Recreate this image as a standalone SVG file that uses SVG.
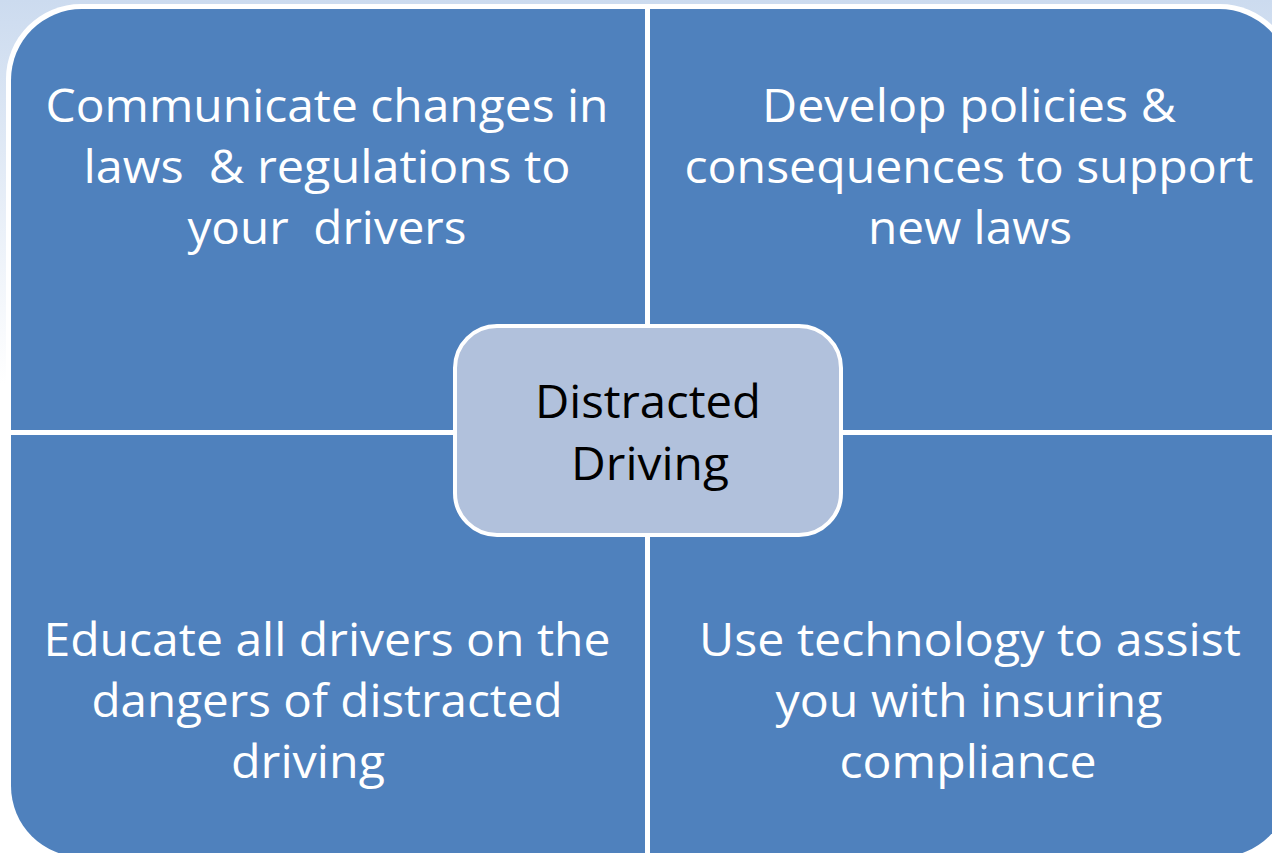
<svg xmlns="http://www.w3.org/2000/svg" width="1272" height="853" viewBox="0 0 1272 853">
<defs>
<linearGradient id="bg" x1="0" y1="0" x2="0" y2="1">
<stop offset="0" stop-color="#CCDBEF"/>
<stop offset="0.45" stop-color="#FFFFFF"/>
<stop offset="1" stop-color="#FFFFFF"/>
</linearGradient>
<style>
.quad{fill:#4F81BD;}
.qt{font-family:"Open Sans","Liberation Sans",sans-serif;font-size:46px;fill:#FFFFFF;text-anchor:middle;}
.ct{font-family:"Open Sans","Liberation Sans",sans-serif;font-size:46px;fill:#000000;text-anchor:middle;}
</style>
</defs>
<rect x="0" y="0" width="1272" height="853" fill="url(#bg)"/>
<rect x="6" y="4" width="1289" height="858" rx="75" ry="75" fill="#FFFFFF"/>
<g id="quad-tl">
<path class="quad" d="M11,430 V80 A71,71 0 0 1 82,9 H645 V430 Z"/>
<text class="qt" x="327" y="122" textLength="563" lengthAdjust="spacingAndGlyphs">Communicate changes in</text>
<text class="qt" x="327" y="183" textLength="487" lengthAdjust="spacingAndGlyphs" xml:space="preserve">laws  &amp; regulations to</text>
<text class="qt" x="327" y="244" textLength="279" lengthAdjust="spacingAndGlyphs" xml:space="preserve">your  drivers</text>
</g>
<g id="quad-tr">
<path class="quad" d="M650,9 H1219 A71,71 0 0 1 1290,80 V430 H650 Z"/>
<text class="qt" x="969" y="122" textLength="414" lengthAdjust="spacingAndGlyphs">Develop policies &amp;</text>
<text class="qt" x="969" y="183" textLength="569" lengthAdjust="spacingAndGlyphs">consequences to support</text>
<text class="qt" x="970" y="244" textLength="204" lengthAdjust="spacingAndGlyphs">new laws</text>
</g>
<g id="quad-bl">
<path class="quad" d="M11,435 H645 V857 H82 A71,71 0 0 1 11,786 Z"/>
<text class="qt" x="327" y="656" textLength="567" lengthAdjust="spacingAndGlyphs">Educate all drivers on the</text>
<text class="qt" x="327" y="717" textLength="471" lengthAdjust="spacingAndGlyphs">dangers of distracted</text>
<text class="qt" x="308" y="778" textLength="154" lengthAdjust="spacingAndGlyphs">driving</text>
</g>
<g id="quad-br">
<path class="quad" d="M650,435 H1290 V786 A71,71 0 0 1 1219,857 H650 Z"/>
<text class="qt" x="970" y="656" textLength="542" lengthAdjust="spacingAndGlyphs">Use technology to assist</text>
<text class="qt" x="969" y="717" textLength="387" lengthAdjust="spacingAndGlyphs">you with insuring</text>
<text class="qt" x="968" y="778" textLength="257" lengthAdjust="spacingAndGlyphs">compliance</text>
</g>
<g id="center">
<rect x="455" y="326" width="386" height="209" rx="42" ry="42" fill="#B1C1DC" stroke="#FFFFFF" stroke-width="4"/>
<text class="ct" x="648" y="418" textLength="226" lengthAdjust="spacingAndGlyphs">Distracted</text>
<text class="ct" x="650" y="480" textLength="158" lengthAdjust="spacingAndGlyphs">Driving</text>
</g>
<g id="connectors"></g>
</svg>
